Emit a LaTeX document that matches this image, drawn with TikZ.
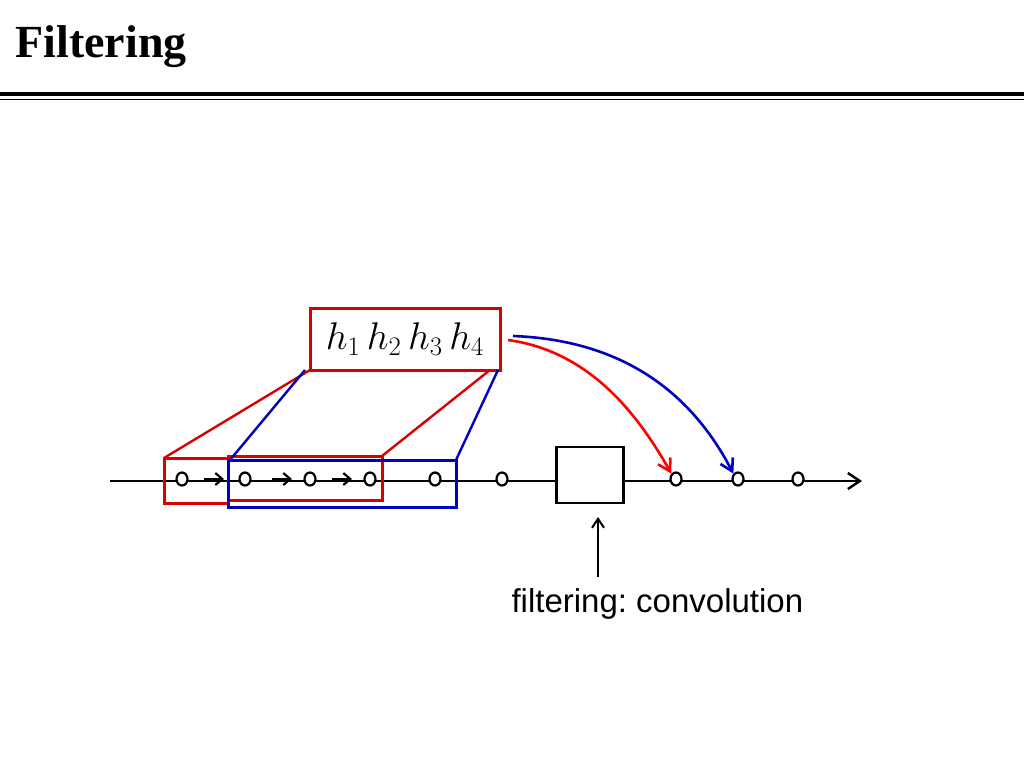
\documentclass[tikz,border=0pt]{standalone}
\usepackage{fontspec}
\usepackage{graphicx}
\usetikzlibrary{arrows.meta,shapes.geometric}
\newfontfamily\sans{Liberation Sans}
\newfontfamily\serif{Liberation Serif}
\frenchspacing
\begin{document}
\begin{tikzpicture}[x=1pt,y=-1pt,
 rb/.style={draw=red!85!black,line width=3pt},
 bb/.style={draw=blue!75!black,line width=3pt},
 dot/.style={draw=black,line width=2.2pt,ellipse,minimum width=11pt,minimum height=13pt,inner sep=0pt,fill=white},
 mk/.style={-{Straight Barb[length=7pt,width=12pt]},line width=2.2pt}]
\useasboundingbox (0,0) rectangle (1024,768);
\node[anchor=west,font=\serif\bfseries\fontsize{46}{46}\selectfont] (title) at (12,47) {Filtering};
\draw[line width=4pt] (0,94) -- (1024,94);
\draw[line width=1.5pt] (0,99.5) -- (1024,99.5);
% filter box
\node[rb,minimum width=190pt,minimum height=62pt] (h) at (405,339) {\scalebox{1.55}{\fontsize{24}{24}\selectfont$h_1\,h_2\,h_3\,h_4$}};
% axis
\coordinate (s) at (110,481); \coordinate (e) at (862,481);
\draw[line width=2.4pt,-{Straight Barb[length=12pt,width=16pt]}] (s) -- (e);
\draw[rb] (164,458) rectangle (228,503);
\draw[rb] (228,456) rectangle (382,500);
\draw[bb] (228,460) rectangle (456,507);
\foreach \x/\n in {182/a,245/b,310/c,370/d,435/e2,502/f,676/g,738/i,798/j}
  \node[dot] (\n) at (\x,479) {};
\foreach \x in {204,272,332} \draw[mk] (\x,479) -- (\x+20,479);
\node[draw,line width=2.6pt,minimum width=67pt,minimum height=56pt,fill=white] (sq) at (590,475) {};
\coordinate (ub) at (598,577);
\draw[line width=2pt,-{Straight Barb[length=9pt,width=12pt]}] (ub) -- (598,517);
\node[anchor=west,font=\sans\fontsize{33}{33}\selectfont] (lab) at (508,604) {filtering: convolution};
% funnel lines
\draw[draw=red!85!black,line width=2.4pt] (310,370) -- (164,458);
\draw[draw=red!85!black,line width=2.4pt] (490,370) -- (382,456);
\draw[draw=blue!75!black,line width=2.4pt] (305,370) -- (230,460);
\draw[draw=blue!75!black,line width=2.4pt] (498,370) -- (456,460);
% curved arrows
\draw[draw=blue!75!black,line width=2.6pt,-{Straight Barb[length=12pt,width=14pt]}] (513,336) .. controls (620,340) and (690,390) .. (i.north west);
\draw[draw=red,line width=2.6pt,-{Straight Barb[length=12pt,width=14pt]}] (508,340) .. controls (580,350) and (630,400) .. (g.north west);
\end{tikzpicture}
\end{document}
